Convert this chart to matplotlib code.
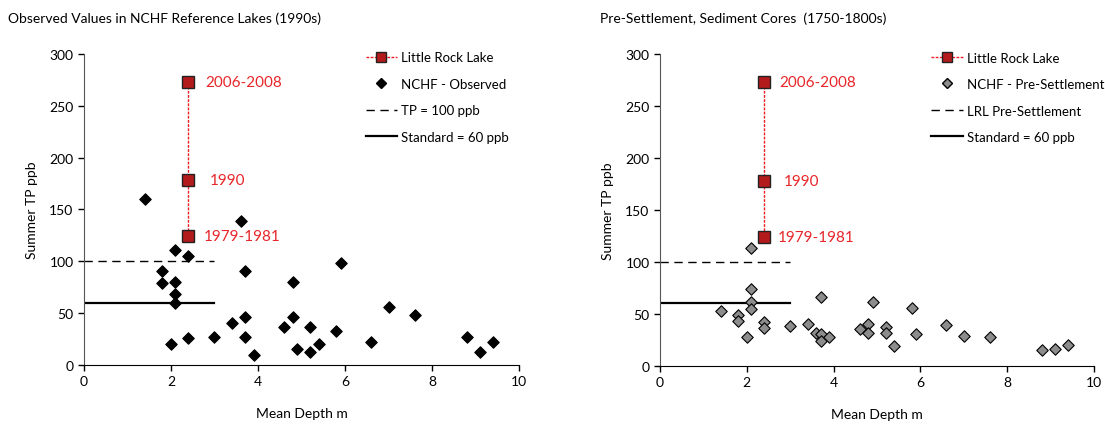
import matplotlib
matplotlib.use("Agg")
import matplotlib.pyplot as plt
from matplotlib.lines import Line2D

plt.rcParams['font.family'] = ['Lato', 'DejaVu Sans']

# =========================
# DATA
# =========================
lrl_depth = [2.4, 2.4, 2.4]
lrl_tp = [273, 178, 124]
lrl_labels = ["2006-2008", "1990", "1979-1981"]

obs_depth = [1.4, 3.6, 2.1, 2.4, 1.8, 3.7, 5.9, 1.8, 2.1, 4.8, 2.1, 2.1, 2.0, 2.4,
             3.0, 3.4, 3.7, 3.7, 3.9, 4.6, 4.8, 4.9, 5.2, 5.2, 5.4, 5.8,
             6.6, 7.0, 7.6, 8.8, 9.1, 9.4]
obs_tp = [160, 139, 111, 105, 91, 91, 98, 79, 80, 80, 68, 60, 20, 26,
          27, 40, 46, 27, 10, 37, 46, 15, 37, 12, 20, 33,
          22, 56, 48, 27, 12, 22]

pre_depth = [2.1, 2.1, 2.1, 2.1, 1.4, 1.8, 1.8, 2.0, 2.4, 2.4, 3.0, 3.4, 3.7,
             3.6, 3.7, 3.7, 3.9, 4.6, 4.8, 4.8, 4.9, 5.2, 5.2, 5.4, 5.8, 5.9,
             6.6, 7.0, 7.6, 8.8, 9.1, 9.4]
pre_tp = [113, 74, 61, 55, 53, 49, 43, 28, 42, 36, 38, 40, 66,
          32, 31, 24, 28, 35, 40, 32, 61, 37, 32, 19, 56, 31,
          39, 29, 28, 15, 16, 20]

ref_x = [0, 3]
tp100 = [100, 100]
std60 = [60, 60]

red_text = "#e8262a"
red_fill = "#b21a1c"

# =========================
# FIGURE
# =========================
fig = plt.figure(figsize=(11.05, 4.27), dpi=100)
ax1 = fig.add_axes([0.076, 0.143, 0.3937, 0.7283])
ax2 = fig.add_axes([0.5973, 0.141, 0.3928, 0.7300])


def draw_panel(ax, xs, ys, face, pts_label, dash_label, title, title_x,
               leg_x, offs):
    ax.plot(ref_x, tp100, color="black", lw=1.0, ls=(0, (6, 4)), zorder=2)
    ax.plot(ref_x, std60, color="black", lw=1.6, zorder=2)
    ax.scatter(xs, ys, marker="D", s=34, c=face, edgecolors="black",
               linewidths=0.8, zorder=3)
    ax.plot(lrl_depth, lrl_tp, color="#ee1c24", lw=1.0, ls=(0, (2, 1)),
            marker="s", ms=9, mfc=red_fill, mec="#222222", mew=1.0, zorder=4)
    for x, y, lab, o in zip(lrl_depth, lrl_tp, lrl_labels, offs):
        ax.annotate(lab, (x, y), xytext=(o, 0), textcoords="offset pixels",
                    color=red_text, fontsize=11, va="center")

    ax.set_xlim(0, 10)
    ax.set_ylim(0, 300)
    ax.set_xticks(range(0, 11, 2))
    ax.set_yticks(range(0, 301, 50))
    ax.tick_params(direction="out", length=4, labelsize=10, width=1)
    for s in ["top", "right"]:
        ax.spines[s].set_visible(False)
    ax.spines["left"].set_color("#555555")
    ax.set_xlabel("Mean Depth m", fontsize=10, labelpad=14)
    ax.set_ylabel("Summer TP ppb", fontsize=10, labelpad=8)
    fig.text(title_x, 0.955, title, fontsize=10, va="center")

    handles = [
        Line2D([], [], color="#ee1c24", lw=1.0, ls=(0, (2, 1)), marker="s",
               ms=7, mfc=red_fill, mec="#222222"),
        Line2D([], [], ls="none", marker="D", ms=5, mfc=face, mec="black"),
        Line2D([], [], color="black", lw=1.0, ls=(0, (6, 4))),
        Line2D([], [], color="black", lw=1.6),
    ]
    labels = ["Little Rock Lake", pts_label, dash_label, "Standard = 60 ppb"]
    ax.legend(handles, labels, loc="upper left", bbox_to_anchor=(leg_x, 1.025),
              frameon=False, fontsize=9.5, labelspacing=1.1,
              handlelength=2.4, handletextpad=0.3, borderaxespad=0)


draw_panel(ax1, obs_depth, obs_tp, "black", "NCHF - Observed", "TP = 100 ppb",
           "Observed Values in NCHF Reference Lakes (1990s)", 0.007,
           0.635, [17, 21, 15])
draw_panel(ax2, pre_depth, pre_tp, "#8c8c8c", "NCHF - Pre-Settlement",
           "LRL Pre-Settlement", "Pre-Settlement, Sediment Cores  (1750-1800s)",
           0.543, 0.612, [15, 20, 14])

fig.savefig("out.png", dpi=100)
